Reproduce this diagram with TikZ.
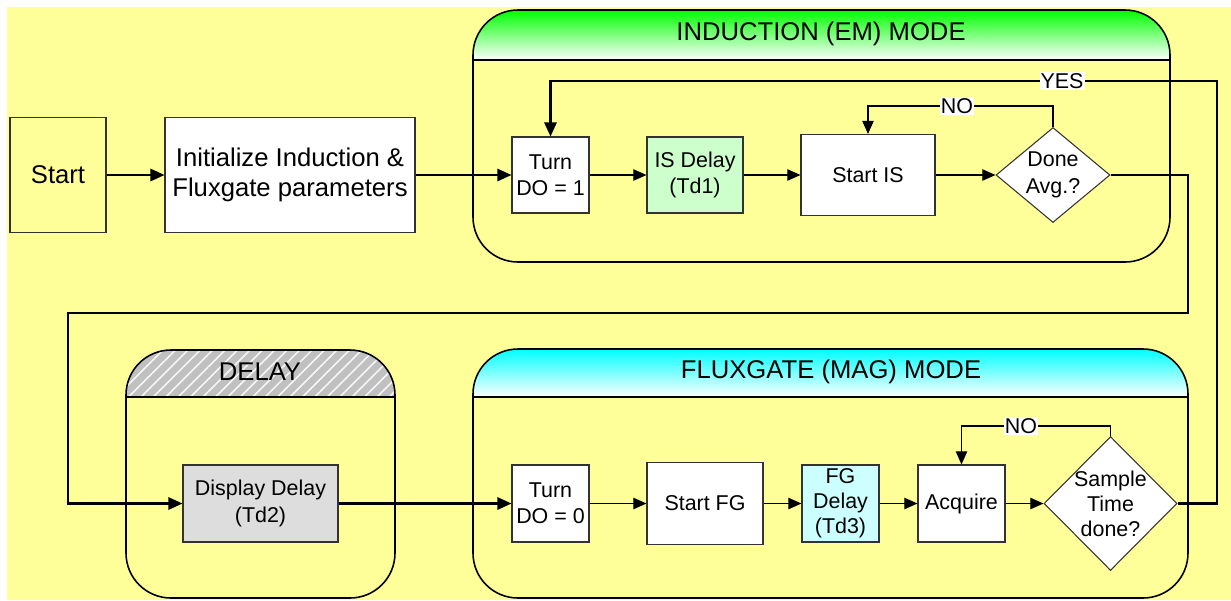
\documentclass[tikz,border=0pt]{standalone}
\usepackage{fontspec}
\setmainfont{Liberation Sans}
\usetikzlibrary{arrows.meta,shapes.geometric,patterns.meta}

\definecolor{bgyellow}{RGB}{255,255,153}
\definecolor{hdgreen}{RGB}{0,255,0}
\definecolor{hdcyan}{RGB}{0,255,255}
\definecolor{islight}{RGB}{204,255,204}
\definecolor{fglight}{RGB}{204,255,255}
\definecolor{dlgray}{RGB}{221,221,221}
\definecolor{hatchgray}{RGB}{192,192,192}

\tikzset{
  procbox/.style={draw=black!80, line width=0.6pt, fill=white, align=center,
    inner sep=0pt, font=\fontsize{12.2}{15}\selectfont},
  decision/.style={diamond, draw=black!80, line width=0.6pt, fill=white, inner sep=0pt},
  flow/.style={line width=1.2pt, -{Triangle[length=8pt,width=7pt]}},
  thinflow/.style={line width=0.7pt, -{Triangle[length=7.5pt,width=6.5pt]}},
  lbl/.style={fill=white, inner sep=0.6pt, font=\fontsize{12.2}{14.5}\selectfont},
  panel/.style={draw=black, line width=0.9pt, rounded corners=0.9cm},
  title/.style={font=\fontsize{14.6}{17}\selectfont},
}

\begin{document}
\begin{tikzpicture}[x=0.02cm, y=-0.02cm]
\useasboundingbox (0,0) rectangle (1231,600);
\fill[bgyellow] (7,7) rectangle (1231,600);

% 感应模式面板
\begin{scope}
\clip[rounded corners=0.9cm] (473,10) rectangle (1170,262);
\shade[top color=hdgreen, bottom color=white] (473,10) rectangle (1170,60);
\end{scope}
\draw[panel] (473,10) rectangle (1170,262);
\draw[line width=0.9pt] (473,60) -- (1170,60);
\node[title] (emtitle) at (821,34) {INDUCTION (EM) MODE};

% 延时面板
\begin{scope}
\clip[rounded corners=0.9cm] (126,350) rectangle (395,598);
\fill[hatchgray] (126,350) rectangle (395,397);
\fill[pattern={Lines[angle=45,distance=5pt,line width=0.9pt]}, pattern color=white!85!hatchgray]
  (126,350) rectangle (395,397);
\end{scope}
\draw[panel] (126,350) rectangle (395,598);
\draw[line width=0.9pt] (126,397) -- (395,397);
\node[title] (dltitle) at (260,372) {DELAY};

% 磁通门模式面板
\begin{scope}
\clip[rounded corners=0.9cm] (473,349) rectangle (1188,598);
\shade[top color=hdcyan, bottom color=white] (473,349) rectangle (1188,397);
\end{scope}
\draw[panel] (473,349) rectangle (1188,598);
\draw[line width=0.9pt] (473,397) -- (1188,397);
\node[title] (fgtitle) at (831,372) {FLUXGATE (MAG) MODE};

% 第一行
\node[procbox, fill=bgyellow, minimum width=1.92cm, minimum height=2.3cm,
  font=\fontsize{14.6}{17}\selectfont] (start) at (58,175) {Start};
\node[procbox, minimum width=5cm, minimum height=2.3cm,
  font=\fontsize{14.6}{17}\selectfont] (init) at (290,175)
  {Initialize Induction \&\\Fluxgate parameters};
\node[procbox, minimum width=1.54cm, minimum height=1.52cm] (turnA) at (550.5,175) {Turn\\DO = 1};
\node[procbox, fill=islight, minimum width=1.92cm, minimum height=1.52cm] (isdel) at (695,175) {IS Delay\\(Td1)};
\node[procbox, minimum width=2.68cm, minimum height=1.62cm] (startis) at (868,175) {Start IS};
\node[decision, minimum width=2.28cm, minimum height=1.9cm] (done) at (1053,175) {};
\node[align=center, font=\fontsize{12.2}{15}\selectfont] (donetxt) at (done) {Done\\Avg.?};

% 第二行
\node[procbox, fill=dlgray, minimum width=3.1cm, minimum height=1.54cm] (disp) at (260.5,503.5) {Display Delay\\(Td2)};
\node[procbox, minimum width=1.54cm, minimum height=1.54cm] (turnB) at (550.5,503.5) {Turn\\DO = 0};
\node[procbox, minimum width=2.32cm, minimum height=1.64cm] (startfg) at (705,503.5) {Start FG};
\node[procbox, fill=fglight, minimum width=1.54cm, minimum height=1.54cm,
  font=\fontsize{12.2}{14.2}\selectfont] (fgdel) at (840.5,503.5) {FG\\Delay\\(Td3)};
\node[procbox, minimum width=1.74cm, minimum height=1.54cm] (acq) at (961.5,503.5) {Acquire};
\node[decision, minimum width=2.66cm, minimum height=2.68cm] (sample) at (1110.5,503.5) {};
\node[align=center, font=\fontsize{12.2}{14.2}\selectfont] (sampletxt) at (sample) {Sample\\Time\\done?};

% 连线
\coordinate (noA) at (957,106);
\coordinate (noB) at (1021,426);
\coordinate (yesR) at (1217,81);
\coordinate (yesL) at (1062,81);
\coordinate (backR) at (1188,313);
\coordinate (backL) at (68,313);

\draw[flow] (start) -- (init);
\draw[flow] (init) -- (turnA);
\draw[thinflow] (turnA) -- (isdel);
\draw[thinflow] (isdel) -- (startis);
\draw[thinflow] (startis) -- (done);
\draw[thinflow] (done.north) |- (noA) -| (startis.north);
\draw[flow] (done.east) -| (backR) -- (backL) |- (disp.west);
\draw[flow] (disp) -- (turnB);
\draw[thinflow] (turnB) -- (startfg);
\draw[thinflow] (startfg) -- (fgdel);
\draw[thinflow] (fgdel) -- (acq);
\draw[thinflow] (acq) -- (sample);
\draw[thinflow] (sample.north) |- (noB) -| (acq.north);
\draw[flow] (sample.east) -| (yesR) -- (yesL) -| (turnA.north);

\node[lbl] (nolblA) at (noA) {NO};
\node[lbl] (nolblB) at (noB) {NO};
\node[lbl] (yeslbl) at (yesL) {YES};
\end{tikzpicture}
\end{document}
